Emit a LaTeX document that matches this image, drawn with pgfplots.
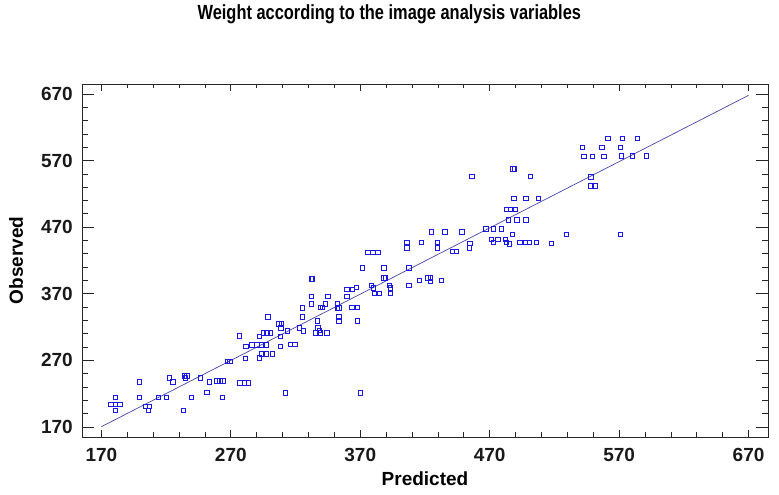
\documentclass[border=0pt]{standalone}
\usepackage{fontspec}
\setmainfont{Liberation Sans}
\usepackage{graphicx}
\usepackage{pgfplots}
\usepackage{pgfplotstable}
\pgfplotsset{compat=1.18}
\definecolor{markblue}{RGB}{25,25,225}
\definecolor{lineblue}{RGB}{70,70,170}
\pgfplotstableread{
x y
180.9 214.6
177.4 204.1
180.9 204.1
184.2 204.1
180.9 195.5
199.1 238.1
199.1 214.6
204.1 201.1
207.2 201.1
206.4 195.5
213.9 214.6
220.1 214.6
222.4 244.1
225.0 238.1
233.3 195.5
234.0 247.1
235.9 247.1
234.6 244.1
239.5 214.6
246.2 244.1
251.4 222.1
253.2 238.1
259.1 239.6
261.5 239.6
263.8 239.6
263.5 214.6
267.1 269.0
269.2 269.0
276.7 307.2
277.0 236.6
280.3 236.6
283.6 236.6
281.1 273.1
281.6 291.1
286.3 293.6
290.2 293.6
294.0 293.6
297.1 293.6
292.0 306.6
292.0 274.1
294.0 279.8
297.1 279.8
302.2 279.8
295.0 311.7
297.9 311.7
300.7 311.7
298.4 335.7
306.9 325.2
309.2 325.2
308.6 319.2
308.4 306.6
308.4 291.1
313.4 314.7
316.0 294.1
319.3 294.1
322.9 319.2
326.0 314.7
325.1 349.2
325.1 335.7
332.3 392.7
333.0 392.7
332.0 366.6
332.0 355.2
344.9 366.6
339.2 350.1
340.5 350.1
342.9 355.2
336.7 329.7
337.3 319.2
338.4 315.1
335.3 311.7
339.2 311.7
344.1 311.7
352.2 355.2
352.2 349.2
353.4 349.2
353.4 335.7
353.4 329.7
359.6 377.1
363.8 377.1
366.9 380.1
359.6 366.6
363.3 350.1
367.5 350.1
367.5 329.7
371.4 409.2
388.3 409.2
407.4 409.2
388.3 394.2
389.2 394.2
378.5 383.1
380.1 379.2
392.2 383.1
393.0 379.2
393.0 370.6
381.2 370.6
384.4 370.6
407.4 383.1
415.7 390.1
422.2 394.2
424.1 394.2
424.3 389.1
432.5 390.1
375.9 432.6
379.8 432.6
383.6 432.6
441.2 433.7
444.3 433.7
312.1 221.6
370.0 221.6
487.8 557.8
488.8 557.8
456.1 546.2
501.2 546.2
488.6 513.6
497.9 513.6
507.7 513.6
482.6 497.1
486.1 497.1
489.6 497.1
484.4 481.2
491.0 481.2
497.9 481.2
467.1 467.7
472.8 467.7
478.8 467.7
487.3 459.2
471.4 451.4
476.1 451.4
482.0 451.4
472.8 446.9
482.8 446.9
485.1 445.2
493.1 446.9
497.4 446.9
500.7 446.9
506.1 446.9
425.0 463.2
435.4 463.2
448.5 463.2
405.9 447.2
405.9 439.2
417.3 447.2
429.4 447.2
429.4 439.2
454.5 446.1
454.0 439.2
561.2 603.2
572.3 603.2
584.0 603.2
541.3 590.2
556.7 590.2
571.0 590.2
542.6 576.7
549.1 576.7
558.1 576.7
571.8 577.3
580.1 577.3
590.9 577.3
548.0 545.8
548.0 532.4
551.1 532.4
529.1 459.2
571.0 459.2
517.5 445.7
}\obsdata
\begin{document}
\begin{tikzpicture}
\useasboundingbox (-82pt,-58pt) rectangle (697pt,437pt);
\begin{axis}[
  at={(0pt,0pt)}, anchor=south west,
  scale only axis, width=686pt, height=353pt,
  xmin=155, xmax=685, ymin=155, ymax=685,
  xtick={170,270,...,670}, ytick={170,270,...,670},
  minor x tick num=4, minor y tick num=4,
  tick align=inside,
  major tick length=12pt, minor tick length=6pt,
  x tick style={/pgfplots/major tick length=7pt, /pgfplots/minor tick length=4.5pt},
  axis line style={black!85, line width=0.8pt},
  tick style={black!85, line width=0.8pt},
  /pgf/number format/assume math mode=true,
  ticklabel style={font=\fontsize{19}{19}\selectfont\bfseries, text=black!90},
  xticklabel style={anchor=center, yshift=-18pt},
  yticklabel style={anchor=east, inner sep=0pt, xshift=-9pt},
  xlabel={Predicted},
  ylabel={Observed},
  xlabel style={at={(axis description cs:0.5,-0.119)}, anchor=center, font=\fontsize{19}{19}\selectfont\bfseries},
  ylabel style={at={(axis description cs:-0.0962,0.5)}, anchor=center, font=\fontsize{19}{19}\selectfont\bfseries},
  title={\scalebox{0.8}[1]{Weight according to the image analysis variables}},
  title style={at={(axis description cs:0.448,1.1643)}, anchor=base, inner sep=0pt, font=\fontsize{20.5}{20.5}\selectfont\bfseries},
]
\addplot[lineblue, line width=0.7pt] coordinates {(170,170.5) (670,668)};
\addplot[only marks, mark=square, mark size=2.2pt, markblue, mark options={line width=0.6pt}] table[x=x,y=y] {\obsdata};
\end{axis}
\end{tikzpicture}
\end{document}
